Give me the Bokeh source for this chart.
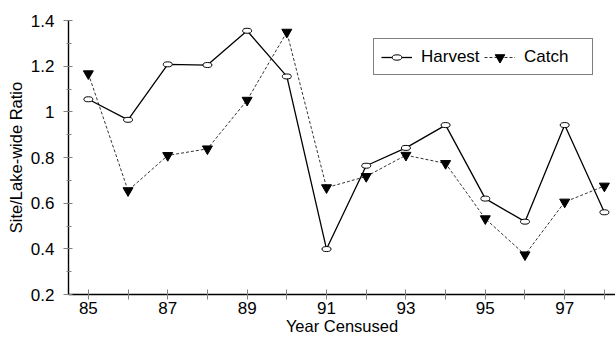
from bokeh.plotting import figure
from bokeh.models import Range1d, FixedTicker, Legend, LegendItem
from bokeh.embed import file_html
from bokeh.resources import INLINE

# ---- data ----
years = [85, 86, 87, 88, 89, 90, 91, 92, 93, 94, 95, 96, 97, 98]
harvest = [1.055, 0.965, 1.208, 1.205, 1.355, 1.155, 0.399, 0.764, 0.842, 0.942, 0.620, 0.519, 0.942, 0.560]
catch = [1.167, 0.655, 0.809, 0.838, 1.051, 1.349, 0.668, 0.717, 0.810, 0.774, 0.532, 0.374, 0.605, 0.675]
x_tick_labels = ["85", "", "87", "", "89", "", "91", "", "93", "", "95", "", "97", ""]
y_ticks = [0.2, 0.4, 0.6, 0.8, 1.0, 1.2, 1.4]
y_tick_labels = ["0.2", "0.4", "0.6", "0.8", "1", "1.2", "1.4"]

FONT = "Liberation Sans"

p = figure(width=615, height=337, output_backend="svg", toolbar_location=None,
           x_range=Range1d(84.5, 98.28), y_range=Range1d(0.2, 1.4),
           min_border_left=68, min_border_right=0, min_border_top=20, min_border_bottom=42)
p.outline_line_color = None
p.grid.visible = False
p.background_fill_color = "white"

# axes
p.xaxis.ticker = FixedTicker(ticks=years, minor_ticks=[])
p.xaxis.major_label_overrides = {int(t): s for t, s in zip(years, x_tick_labels)}
y_minor = [round((a + b) / 2, 3) for a, b in zip(y_ticks, y_ticks[1:])]
p.yaxis.ticker = FixedTicker(ticks=y_ticks, minor_ticks=y_minor)
p.yaxis.major_label_overrides = {t: s for t, s in zip(y_ticks, y_tick_labels)}

for ax in (p.xaxis, p.yaxis):
    ax.axis_line_color = "black"
    ax.axis_line_width = 1.4
    ax.major_tick_line_color = "#808080"
    ax.minor_tick_line_color = "#808080"
    ax.major_label_text_font = FONT
    ax.major_label_text_font_size = "17px"
    ax.major_label_text_color = "black"
    ax.axis_label_text_font = FONT
    ax.axis_label_text_font_size = "16.5px"
    ax.axis_label_text_font_style = "normal"
    ax.axis_label_text_color = "black"

p.xaxis.major_tick_in = 5
p.xaxis.major_tick_out = 5
p.xaxis.minor_tick_line_color = None
p.xaxis.major_label_standoff = 2
p.xaxis.axis_label = "Year Censused"
p.xaxis.axis_label_standoff = 0

p.yaxis.major_tick_in = 4
p.yaxis.major_tick_out = 5
p.yaxis.minor_tick_in = 3
p.yaxis.minor_tick_out = 2
p.yaxis.major_label_standoff = 9
p.yaxis.axis_label = "Site/Lake-wide Ratio"
p.yaxis.axis_label_standoff = 3

# series
h_line = p.line(years, harvest, line_color="black", line_width=1.3)
c_line = p.line(years, catch, line_color="black", line_width=0.8, line_dash="3 2")
h_pts = p.ellipse(x=years, y=harvest, width=9, height=5,
                  width_units="screen", height_units="screen",
                  fill_color="white", line_color="black", line_width=1)
c_pts = p.scatter(years, catch, marker="inverted_triangle", size=10,
                  fill_color="black", line_color="black")

leg1 = Legend(items=[LegendItem(label="Harvest", renderers=[h_line, h_pts])],
              location=(305, 219), orientation="horizontal",
              glyph_width=31, glyph_height=12, label_width=164, label_height=21,
              label_standoff=9, padding=7, spacing=0, margin=0,
              border_line_color="black", border_line_width=1,
              background_fill_color="white", background_fill_alpha=1,
              label_text_font=FONT, label_text_font_size="17px",
              label_text_color="black")
leg2 = Legend(items=[LegendItem(label="Catch", renderers=[c_line, c_pts])],
              location=(416, 225), orientation="horizontal",
              glyph_width=31, glyph_height=24, label_height=24,
              label_standoff=9, padding=0, spacing=0, margin=0,
              border_line_color=None, background_fill_alpha=0,
              label_text_font=FONT, label_text_font_size="17px",
              label_text_color="black")
p.add_layout(leg1, "center")
p.add_layout(leg2, "center")

open("out.html", "w").write(file_html(p, INLINE))
